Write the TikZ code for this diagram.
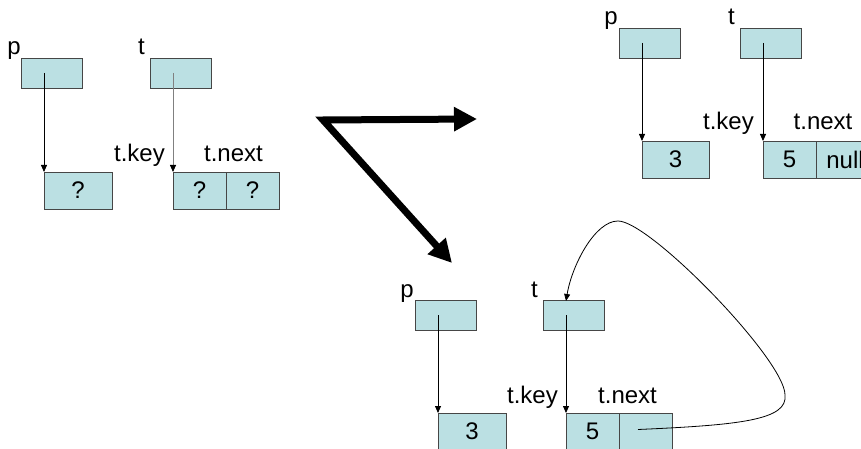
\documentclass[tikz,border=0pt]{standalone}
\usepackage{fontspec}
\setmainfont{Liberation Sans}
\usetikzlibrary{arrows.meta,calc}
\definecolor{boxfill}{RGB}{187,224,227}
\definecolor{boxline}{RGB}{70,70,70}
\definecolor{ptrgray}{RGB}{128,128,128}
\begin{document}
\begin{tikzpicture}[x=1pt,y=-1pt,
  txt/.style={font=\fontsize{24}{24}\selectfont},
  cell/.style={txt, draw=boxline, fill=boxfill, line width=0.8pt, minimum height=37pt, inner sep=0pt, outer sep=0pt, anchor=north west},
  var/.style={draw=boxline, fill=boxfill, line width=0.8pt, minimum width=61pt, minimum height=30pt, inner sep=0pt, outer sep=0pt, anchor=north west},
  lbl/.style={txt, inner sep=0pt},
  ptr/.style={line width=0.8pt, -{Triangle[length=7pt,width=6pt]}},
  bigarrow/.style={line width=7pt, line join=miter, {Triangle[length=23pt,width=23pt]}-{Triangle[length=23pt,width=23pt]}}
]
\useasboundingbox (0,0) rectangle (861,449);

% ---------- top-left: before ----------
\node[lbl, anchor=base east] (pl1) at (21,55) {p};
\node[var] (p1) at (21,58) {};
\node[lbl, anchor=base east] (tl1) at (145,55) {t};
\node[var] (t1) at (150,58) {};
\node[cell, minimum width=68pt] (k1) at (44,172) {?};
\node[cell, minimum width=53pt] (tk1) at (173,172) {?};
\node[cell, minimum width=53pt, anchor=west] (tn1) at (tk1.east) {?};
\node[lbl, anchor=base east] (tkl1) at (165,162) {t.key};
\node[lbl, anchor=base] (tnl1) at (233.5,162) {t.next};
\draw[ptr] (p1.center -| k1.west) -- (k1.north west);
\draw[ptr, ptrgray, -{Triangle[length=7pt,width=6pt,color=black]}] (t1.center -| tk1.west) -- (tk1.north west);

% ---------- big arrows ----------
\coordinate (hs) at (477,119);
\coordinate (cs) at (323,120);
\coordinate (ds) at (452,263);
\draw[bigarrow] (hs) -- (cs) -- (ds);

% ---------- top-right ----------
\node[lbl, anchor=base east] (pl2) at (618,25) {p};
\node[var] (p2) at (619,28) {};
\node[lbl, anchor=base east] (tl2) at (735,25) {t};
\node[var] (t2) at (740,28) {};
\node[cell, minimum width=67pt] (k2) at (642,141) {3};
\node[cell, minimum width=53pt] (tk2) at (763,141) {5};
\node[cell, minimum width=58pt, anchor=west] (tn2) at (tk2.east) {null};
\node[lbl, anchor=base east] (tkl2) at (754,130) {t.key};
\node[lbl, anchor=base] (tnl2) at (823,130) {t.next};
\draw[ptr] (p2.center -| k2.west) -- (k2.north west);
\draw[ptr] (t2.center -| tk2.west) -- (tk2.north west);

% ---------- bottom ----------
\node[lbl, anchor=base east] (pl3) at (414,297) {p};
\node[var] (p3) at (415,300) {};
\node[lbl, anchor=base east] (tl3) at (538,297) {t};
\node[var] (t3) at (543,300) {};
\node[cell, minimum width=68pt] (k3) at (438,413) {3};
\node[cell, minimum width=53pt] (tk3) at (566,413) {5};
\node[cell, minimum width=53pt, anchor=west] (tn3) at (tk3.east) {};
\node[lbl, anchor=base east] (tkl3) at (558,403) {t.key};
\node[lbl, anchor=base] (tnl3) at (627.5,403) {t.next};
\draw[ptr] (p3.center -| k3.west) -- (k3.north west);
\draw[ptr] (t3.center -| tk3.west) -- (tk3.north west);

\coordinate (nx) at ($(tn3.west)+(19,-2)$);
\coordinate (ttop) at ($(t3.north west)+(23,1)$);
\draw[ptr] (nx) .. controls (740,425) and (788,420) .. (785,395)
  .. controls (785,360) and (650,221) .. (618,221)
  .. controls (595,221) and (572,265) .. (ttop);
\end{tikzpicture}
\end{document}
